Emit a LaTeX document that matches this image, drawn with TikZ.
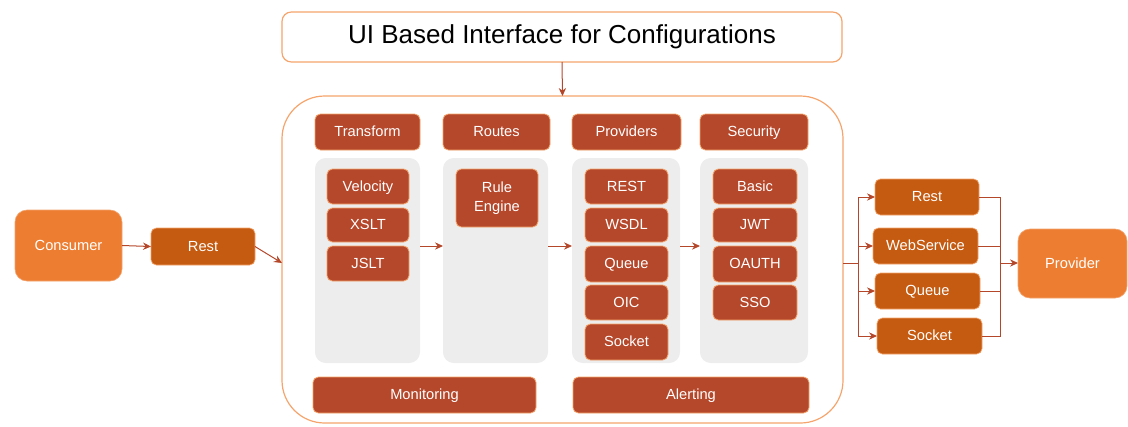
\documentclass[tikz,border=0pt]{standalone}
\usepackage{fontspec}
\setmainfont{Liberation Sans}
\usetikzlibrary{arrows.meta}
\definecolor{org}{HTML}{ED7D31}
\definecolor{dorg}{HTML}{C55A11}
\definecolor{rust}{HTML}{B5472B}
\definecolor{lgray}{HTML}{EDEDED}
\definecolor{edgeo}{HTML}{F4A46C}
\definecolor{arrc}{HTML}{B4472A}
\newcommand\rbox[7]{\node[#1, minimum width={(#5-#3)*0.75pt}, minimum height={(#6-#4)*0.75pt}] (#2) at ({(#3+#5)/2},{(#4+#6)/2}) {#7};}
\tikzset{
  base/.style={rectangle, inner sep=0pt, outer sep=0pt, align=center, font=\fontsize{11}{13}\selectfont},
  tb/.style={text height=1.6ex, text depth=0.2ex},
  hdr/.style={base, tb, fill=rust, draw=edgeo, line width=0.6pt, rounded corners=4pt, text=white},
  inbox/.style={hdr},
  panel/.style={base, fill=lgray, rounded corners=8pt},
  restbox/.style={base, tb, fill=dorg, draw=edgeo, line width=0.5pt, rounded corners=4pt, text=white},
  endbox/.style={base, tb, fill=org, draw=org!70, line width=0.5pt, rounded corners=9pt, text=white, font=\fontsize{11}{13}\selectfont},
  uibox/.style={base, draw=edgeo, line width=0.9pt, rounded corners=7pt, font=\fontsize{19.5}{22}\selectfont},
  contbox/.style={base, draw=edgeo, line width=0.9pt, rounded corners=32pt},
  conn/.style={draw=arrc, line width=0.75pt},
  arr/.style={conn, -{Stealth[length=6pt,width=5.5pt]}},
}
\begin{document}
\begin{tikzpicture}[x=0.75pt,y=-0.75pt]
\useasboundingbox (0,0) rectangle (1128,426);
% top
\rbox{uibox}{ui}{282}{12}{842}{62}{UI Based Interface for Configurations}
\rbox{contbox}{cont}{282}{96}{843}{423}{}
\draw[arr] (ui.south) -- (cont.north);
% left side
\rbox{endbox}{cons}{15}{210}{122}{281}{Consumer}
\rbox{restbox}{restl}{151}{228}{255}{265}{Rest}
\draw[arr] (cons.east) -- (restl.west);
\coordinate (cin) at (282,263);
\draw[arr] (restl.east) -- (cin);
% headers
\rbox{hdr}{htr}{315}{114}{420}{150}{Transform}
\rbox{hdr}{hro}{443}{114}{550}{150}{Routes}
\rbox{hdr}{hpr}{572}{114}{681}{150}{Providers}
\rbox{hdr}{hse}{700}{114}{808}{150}{Security}
% panels
\rbox{panel}{ptr}{315}{158}{420}{363}{}
\rbox{panel}{pro}{443}{158}{548}{363}{}
\rbox{panel}{ppr}{572}{158}{680}{363}{}
\rbox{panel}{pse}{700}{158}{808}{363}{}
% transform
\rbox{inbox}{vel}{327}{169}{409}{204}{Velocity}
\rbox{inbox}{xslt}{327}{208}{409}{242}{XSLT}
\rbox{inbox}{jslt}{327}{246}{409}{281}{JSLT}
% routes
\node[base, fill=rust, draw=edgeo, line width=0.6pt, rounded corners=4pt, text=white,
  minimum width={82*0.75pt}, minimum height={58*0.75pt}] (rule) at (497,198) {Rule\\[1pt]Engine};
% providers
\rbox{inbox}{prest}{585}{169}{668}{204}{REST}
\rbox{inbox}{pwsdl}{585}{208}{668}{242}{WSDL}
\rbox{inbox}{pqueue}{585}{246}{668}{282}{Queue}
\rbox{inbox}{poic}{585}{285}{668}{320}{OIC}
\rbox{inbox}{psock}{585}{324}{668}{360}{Socket}
% security
\rbox{inbox}{sbasic}{713}{169}{797}{204}{Basic}
\rbox{inbox}{sjwt}{713}{208}{797}{242}{JWT}
\rbox{inbox}{soauth}{713}{246}{797}{282}{OAUTH}
\rbox{inbox}{ssso}{713}{285}{797}{320}{SSO}
% panel arrows
\coordinate (mid) at (0,246);
\draw[arr] (ptr.east |- mid) -- (pro.west |- mid);
\draw[arr] (pro.east |- mid) -- (ppr.west |- mid);
\draw[arr] (ppr.east |- mid) -- (pse.west |- mid);
% bottom
\rbox{hdr}{mon}{313}{377}{536}{413}{Monitoring}
\rbox{hdr}{alert}{573}{377}{809}{413}{Alerting}
% right side
\rbox{restbox}{r1}{875}{179}{979}{215}{Rest}
\rbox{restbox}{r2}{873}{228}{978}{264}{WebService}
\rbox{restbox}{r3}{875}{273}{980}{309}{Queue}
\rbox{restbox}{r4}{877}{318}{982}{354}{Socket}
\rbox{endbox}{prov}{1018}{229}{1127}{298}{Provider}
\coordinate (bL) at (858,263);
\coordinate (bR) at (1000,263);
\draw[conn] (cont.east |- bL) -- (bL);
\foreach \r in {r1,r2,r3,r4} {\draw[arr] (bL) |- (\r.west);}
\foreach \r in {r1,r2,r3,r4} {\draw[conn] (\r.east) -| (bR);}
\draw[arr] (bR) -- (prov.west |- bR);
\end{tikzpicture}
\end{document}
